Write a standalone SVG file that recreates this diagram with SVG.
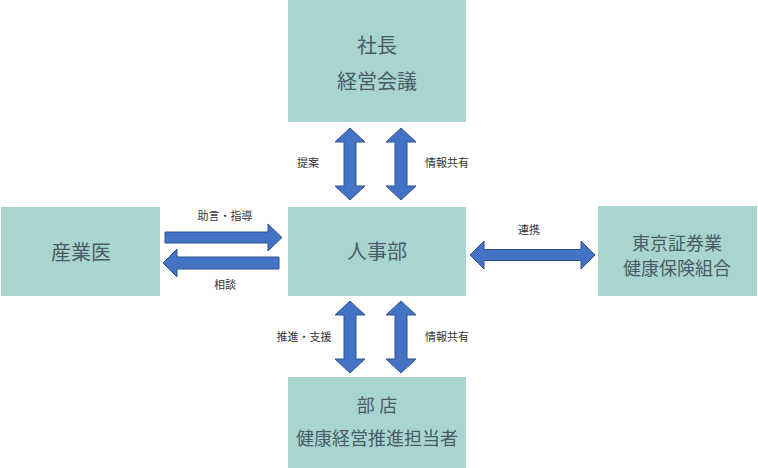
<svg xmlns="http://www.w3.org/2000/svg" width="758" height="468" viewBox="0 0 758 468">
<style>
.box{fill:#A9D5D0;}
.bt{font-family:"Liberation Serif","Noto Sans CJK JP",serif;fill:#4A5A66;text-anchor:middle;font-size:20px;}
.lb{font-family:"Liberation Sans","Noto Sans CJK JP",sans-serif;fill:#333;font-size:11px;text-anchor:middle;}
.ar{fill:#4472C4;stroke:#2F528F;stroke-width:1;}
</style>
<rect width="758" height="468" fill="#fff"/>
<g id="president">
<rect class="box" x="288" y="0" width="178" height="122"/>
<text class="bt" x="377" y="53">社長</text>
<text class="bt" x="377" y="89">経営会議</text>
</g>
<g id="hr">
<rect class="box" x="288" y="207" width="178" height="89"/>
<text class="bt" x="377" y="259">人事部</text>
</g>
<g id="doctor">
<rect class="box" x="1" y="207" width="159" height="89"/>
<text class="bt" x="81" y="260">産業医</text>
</g>
<g id="kenpo">
<rect class="box" x="598" y="206" width="159" height="90"/>
<text class="bt" x="677" y="250" style="font-size:18px">東京証券業</text>
<text class="bt" x="677" y="275" style="font-size:18px">健康保険組合</text>
</g>
<g id="branch">
<rect class="box" x="288" y="377" width="178" height="91"/>
<text class="bt" x="377" y="412" style="font-size:18px">部 店</text>
<text class="bt" x="377" y="445" style="font-size:18px">健康経営推進担当者</text>
</g>
<g id="connectors">
<path class="ar" d="M350,128 L365,142 L356,142 L356,186 L365,186 L350,200 L335,186 L344,186 L344,142 L335,142 Z"/>
<path class="ar" d="M401,128 L416,142 L407,142 L407,186 L416,186 L401,200 L386,186 L395,186 L395,142 L386,142 Z"/>
<path class="ar" d="M350,301 L365,315 L356,315 L356,359 L365,359 L350,373 L335,359 L344,359 L344,315 L335,315 Z"/>
<path class="ar" d="M401,301 L416,315 L407,315 L407,359 L416,359 L401,373 L386,359 L395,359 L395,315 L386,315 Z"/>
<path class="ar" d="M165,232 L268,232 L268,224 L282,237.5 L268,251 L268,243 L165,243 Z"/>
<path class="ar" d="M279,257 L177,257 L177,249 L163,263 L177,277 L177,269 L279,269 Z"/>
<path class="ar" d="M470,255 L484,241 L484,249.5 L581,249.5 L581,241 L595,255 L581,269 L581,260.5 L484,260.5 L484,269 Z"/>
<text class="lb" x="308" y="167">提案</text>
<text class="lb" x="447" y="167">情報共有</text>
<text class="lb" x="304" y="341">推進・支援</text>
<text class="lb" x="447" y="341">情報共有</text>
<text class="lb" x="225" y="220">助言・指導</text>
<text class="lb" x="225" y="289">相談</text>
<text class="lb" x="529" y="234">連携</text>
</g>
</svg>
